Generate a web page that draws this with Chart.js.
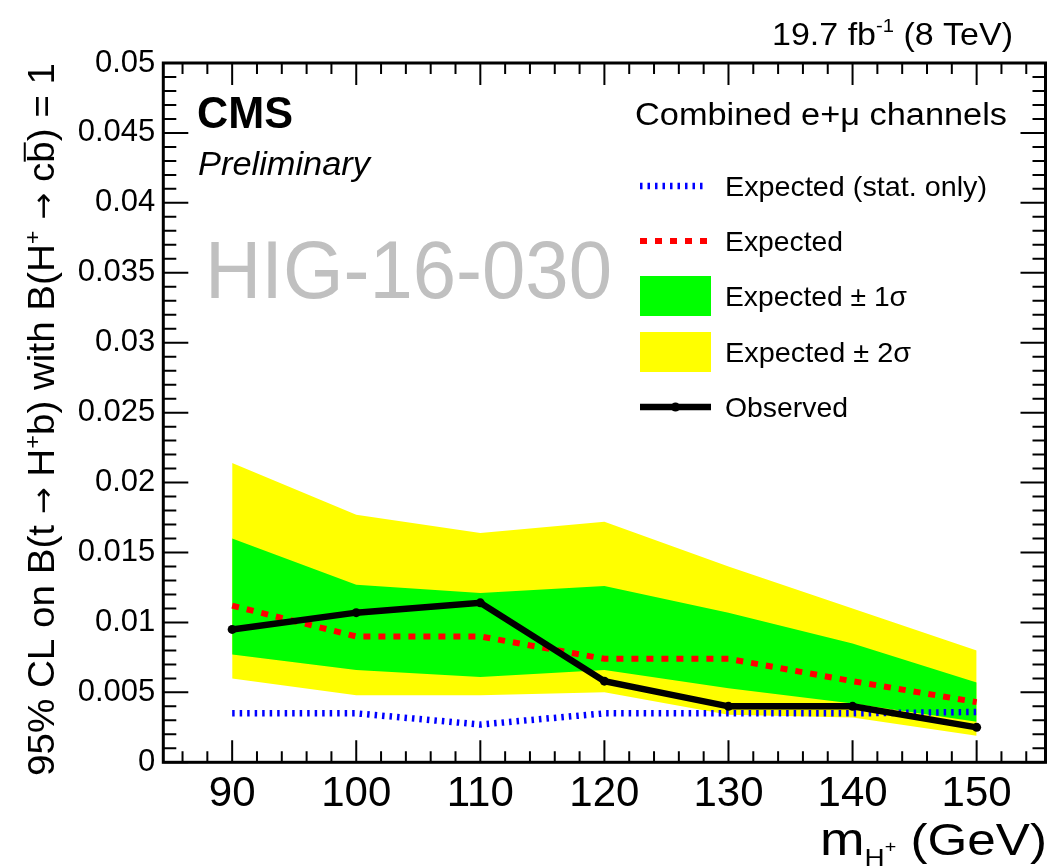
<!DOCTYPE html>
<html>
<head>
<meta charset="utf-8">
<script src="https://cdn.jsdelivr.net/npm/chart.js@4.4.1/dist/chart.umd.min.js"></script>
<style>
  html, body { margin: 0; padding: 0; background: #fff; }
  #wrap { width: 1057px; height: 868px; }
</style>
</head>
<body>
<div id="wrap"><canvas id="limitChart" width="1057" height="868"></canvas></div>
<script>
"use strict";

// m_H+ points (GeV)
const massPoints  = [90, 100, 110, 120, 130, 140, 150];

// 95% CL upper limits
const observed    = [0.0095, 0.0107, 0.0114, 0.0058, 0.0040, 0.0040, 0.0025];
const expected    = [0.0112, 0.0090, 0.0090, 0.0074, 0.0074, 0.0058, 0.0043];
const expStatOnly = [0.0035, 0.0035, 0.0027, 0.0035, 0.0035, 0.0035, 0.0036];
const sigma1Up    = [0.0160, 0.0127, 0.0121, 0.0126, 0.0107, 0.0085, 0.0057];
const sigma1Down  = [0.0077, 0.0066, 0.0061, 0.0066, 0.0053, 0.0042, 0.0029];
const sigma2Up    = [0.0214, 0.0177, 0.0164, 0.0172, 0.0140, 0.0110, 0.0080];
const sigma2Down  = [0.0060, 0.0048, 0.0048, 0.0050, 0.0034, 0.0032, 0.0019];

const xTickLabels = [90, 100, 110, 120, 130, 140, 150];
const yTickLabels = [0, 0.005, 0.01, 0.015, 0.02, 0.025, 0.03, 0.035, 0.04, 0.045, 0.05];

const FONT = '"Liberation Sans", Arial, Helvetica, sans-serif';
const ARROW_FONT = '"DejaVu Sans", sans-serif';
Chart.defaults.font.family = FONT;

const pts = arr => massPoints.map((x, i) => ({ x: x, y: arr[i] }));

// draw a run of text pieces (sizes / shifts), optionally squeezed to a width
function drawRich(ctx, parts, x, y, width) {
    const fontOf = p => `${p.style || ""} ${p.size}px ${p.family || FONT}`;
    let total = 0;
    parts.forEach(p => {
        ctx.font = fontOf(p);
        p.w = ctx.measureText(p.t).width;
        total += p.w;
    });
    const sx = width ? width / total : 1;
    ctx.save();
    ctx.translate(x, y);
    ctx.scale(sx, 1);
    ctx.textAlign = "left";
    ctx.textBaseline = "alphabetic";
    let cx = 0;
    parts.forEach(p => {
        ctx.font = fontOf(p);
        ctx.fillText(p.t, cx, p.dy || 0);
        if (p.bar) ctx.fillRect(cx + 1, -p.size * 0.84, p.w - 2, 2);
        cx += p.w;
    });
    ctx.restore();
}

const framePlugin = {
    id: "frame",
    afterDraw(chart) {
        const ctx = chart.ctx;
        const a = chart.chartArea;
        const xs = chart.scales.x, ys = chart.scales.y;

        // inward ticks on all four sides
        ctx.save();
        ctx.strokeStyle = "#000";
        ctx.lineWidth = 2;
        ctx.beginPath();
        for (let v = 0; v <= 50; v++) {
            const y = ys.getPixelForValue(v / 1000);
            const len = v % 5 === 0 ? 25 : 13;
            ctx.moveTo(a.left, y); ctx.lineTo(a.left + len, y);
            ctx.moveTo(a.right, y); ctx.lineTo(a.right - len, y);
        }
        for (let m = 86; m <= 154; m += 2) {
            const x = xs.getPixelForValue(m);
            const len = m % 10 === 0 ? 22 : 11;
            ctx.moveTo(x, a.bottom); ctx.lineTo(x, a.bottom - len);
            ctx.moveTo(x, a.top); ctx.lineTo(x, a.top + len);
        }
        ctx.stroke();
        ctx.lineWidth = 3;
        ctx.strokeRect(a.left, a.top, a.right - a.left, a.bottom - a.top);
        ctx.restore();

        // labels
        ctx.save();
        ctx.fillStyle = "#000";
        drawRich(ctx, [
            { t: "19.7 fb", size: 32 },
            { t: "-1", size: 19, dy: -13 },
            { t: " (8 TeV)", size: 32 }
        ], 772, 45, 241);

        drawRich(ctx, [{ t: "CMS", size: 44, style: "bold" }], 197, 128, 96);
        drawRich(ctx, [{ t: "Preliminary", size: 34, style: "italic" }], 198, 175, 172);
        ctx.fillStyle = "#c0c0c0";
        drawRich(ctx, [{ t: "HIG-16-030", size: 82 }], 205, 298, 407);
        ctx.fillStyle = "#000";
        drawRich(ctx, [{ t: "Combined e+\u03bc channels", size: 31 }], 635, 125, 372);

        // x title
        drawRich(ctx, [
            { t: "m", size: 46 },
            { t: "H", size: 24, dy: 11 },
            { t: "+", size: 17, dy: -3 },
            { t: " (GeV)", size: 44 }
        ], 820, 855, 227);

        // y title (rotated)
        ctx.save();
        ctx.translate(54, 776);
        ctx.rotate(-Math.PI / 2);
        drawRich(ctx, [
            { t: "95% CL on B(t ", size: 36 },
            { t: "\u2192", size: 30, family: ARROW_FONT, dy: -1 },
            { t: " H", size: 36 },
            { t: "+", size: 22, dy: -14 },
            { t: "b) with B(H", size: 36 },
            { t: "+", size: 22, dy: -14 },
            { t: " ", size: 36 },
            { t: "\u2192", size: 30, family: ARROW_FONT, dy: -1 },
            { t: " c", size: 36 },
            { t: "b", size: 36, bar: true },
            { t: ") = 1", size: 36 }
        ], 0, 0, 713);
        ctx.restore();

        // legend
        const ds = chart.data.datasets;
        const lx0 = 640, lx1 = 711, tx = 725;
        const entries = [
            { y: 186, kind: "line", d: ds[2], text: "Expected (stat. only)", w: 262 },
            { y: 241, kind: "line", d: ds[1], text: "Expected", w: 118 },
            { y: 296, kind: "box", color: ds[3].backgroundColor, text: "Expected \u00b1 1\u03c3", w: 182 },
            { y: 352, kind: "box", color: ds[5].backgroundColor, text: "Expected \u00b1 2\u03c3", w: 186 },
            { y: 407, kind: "obs", d: ds[0], text: "Observed", w: 123 }
        ];
        entries.forEach(e => {
            if (e.kind === "box") {
                ctx.fillStyle = e.color;
                ctx.fillRect(lx0, e.y - 20, lx1 - lx0, 40);
            } else {
                ctx.save();
                ctx.strokeStyle = e.d.borderColor;
                ctx.lineWidth = e.d.borderWidth;
                ctx.setLineDash(e.d.borderDash || []);
                ctx.beginPath();
                ctx.moveTo(lx0, e.y);
                ctx.lineTo(e.kind === "obs" ? lx1 : lx1 - 4, e.y);
                ctx.stroke();
                ctx.restore();
                if (e.kind === "obs") {
                    ctx.fillStyle = "#000";
                    ctx.beginPath();
                    ctx.arc((lx0 + lx1) / 2, e.y, e.d.pointRadius, 0, Math.PI * 2);
                    ctx.fill();
                }
            }
            ctx.fillStyle = "#000";
            drawRich(ctx, [{ t: e.text, size: 28 }], tx, e.y + 10, e.w);
        });
        ctx.restore();
    }
};

const chart = new Chart(document.getElementById("limitChart"), {
    type: "line",
    data: {
        datasets: [
            {
                label: "Observed",
                data: pts(observed),
                borderColor: "#000000",
                backgroundColor: "#000000",
                borderWidth: 6.5,
                pointRadius: 4.5,
                pointBorderWidth: 0,
                pointBackgroundColor: "#000000",
                fill: false,
                tension: 0
            },
            {
                label: "Expected",
                data: pts(expected),
                borderColor: "#ff0000",
                borderWidth: 6,
                borderDash: [7, 8],
                pointRadius: 0,
                fill: false,
                tension: 0
            },
            {
                label: "Expected (stat. only)",
                data: pts(expStatOnly),
                borderColor: "#0000ff",
                borderWidth: 6.5,
                borderDash: [2.5, 5],
                pointRadius: 0,
                fill: false,
                tension: 0
            },
            {
                label: "Expected \u00b1 1\u03c3",
                data: pts(sigma1Up),
                borderWidth: 0,
                borderColor: "rgba(0,0,0,0)",
                backgroundColor: "#00ff00",
                pointRadius: 0,
                fill: "+1",
                tension: 0
            },
            {
                label: "1 sigma low",
                data: pts(sigma1Down),
                borderWidth: 0,
                borderColor: "rgba(0,0,0,0)",
                pointRadius: 0,
                fill: false,
                tension: 0
            },
            {
                label: "Expected \u00b1 2\u03c3",
                data: pts(sigma2Up),
                borderWidth: 0,
                borderColor: "rgba(0,0,0,0)",
                backgroundColor: "#ffff00",
                pointRadius: 0,
                fill: "+1",
                tension: 0
            },
            {
                label: "2 sigma low",
                data: pts(sigma2Down),
                borderWidth: 0,
                borderColor: "rgba(0,0,0,0)",
                pointRadius: 0,
                fill: false,
                tension: 0
            }
        ]
    },
    options: {
        responsive: false,
        devicePixelRatio: 1,
        animation: false,
        layout: { padding: { top: 63, right: 11.5, left: 0, bottom: 0 } },
        plugins: {
            legend: { display: false },
            tooltip: { enabled: false }
        },
        scales: {
            x: {
                type: "linear",
                min: 84.45,
                max: 155.55,
                afterBuildTicks: s => { s.ticks = xTickLabels.map(v => ({ value: v })); },
                afterFit: s => { s.height = 105.7; },
                grid: { display: false, drawTicks: false },
                border: { display: false },
                ticks: { color: "#000", font: { size: 42 }, padding: 7, maxRotation: 0, autoSkip: false }
            },
            y: {
                min: 0,
                max: 0.05,
                afterBuildTicks: s => { s.ticks = yTickLabels.map(v => ({ value: v })); },
                afterFit: s => { s.width = 163.3; },
                grid: { display: false, drawTicks: false },
                border: { display: false },
                ticks: {
                    color: "#000",
                    font: { size: 31 },
                    padding: 8,
                    autoSkip: false,
                    callback: v => String(+Number(v).toFixed(3))
                }
            }
        }
    },
    plugins: [framePlugin]
});
</script>
</body>
</html>
